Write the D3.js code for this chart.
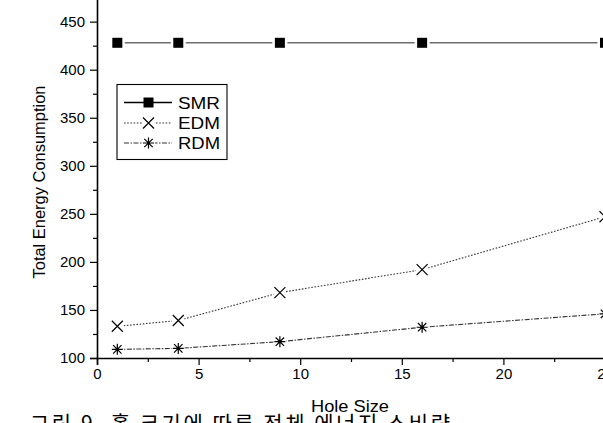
<!DOCTYPE html>
<html>
<head>
<meta charset="utf-8">
<script src="https://cdn.jsdelivr.net/npm/d3@7"></script>
<style>
  html, body { margin: 0; padding: 0; background: #fff; }
  svg { display: block; font-family: Arial, "Liberation Sans", sans-serif; }
</style>
</head>
<body>
<svg id="chart" width="603" height="423"></svg>
<script>
// ---- data ----
const holeSizes = [1, 4, 9, 16, 25];
const smrValues = [428, 428, 428, 428, 428];
const edmValues = [133, 139, 168, 192, 247];
const rdmValues = [109, 110, 117, 132, 146];
const seriesNames = ["SMR", "EDM", "RDM"];
const xTickValues = [0, 5, 10, 15, 20, 25];
const yTickValues = [100, 150, 200, 250, 300, 350, 400, 450];
const xTitle = "Hole Size";
const yTitle = "Total Energy Consumption";
const caption = "그림 9.  홀 크기에 따른 전체 에너지 소비량";

const svg = d3.select("#chart");

const x = d3.scaleLinear().domain([0, 25]).range([97, 605]);
const y = d3.scaleLinear().domain([100, 500]).range([358, -26.4]);

// ---- axes ----
const xAxis = d3.axisBottom(x).tickValues(xTickValues).tickSize(7).tickPadding(3).tickFormat(d3.format("d"));
const xMinor = d3.axisBottom(x).tickValues(d3.range(2.5, 26, 5)).tickSize(4).tickFormat("");
const yAxis = d3.axisLeft(y).tickValues(yTickValues).tickSize(7).tickPadding(5).tickFormat(d3.format("d"));
const yMinor = d3.axisLeft(y).tickValues(d3.range(125, 476, 50)).tickSize(4).tickFormat("");

function styleAxis(g) {
  g.select(".domain").attr("stroke", "#000").attr("stroke-width", 1.6);
  g.selectAll(".tick line").attr("stroke", "#000").attr("stroke-width", 1.2);
  g.selectAll(".tick text").attr("fill", "#000").attr("font-size", 15)
    .attr("font-family", "Arial, 'Liberation Sans', sans-serif");
}

svg.append("g").attr("transform", "translate(0,358)").call(xMinor).call(styleAxis)
  .select(".domain").remove();
svg.append("g").attr("transform", "translate(0,358)").call(xAxis).call(styleAxis);
svg.append("g").attr("transform", "translate(97,0)").call(yMinor).call(styleAxis)
  .select(".domain").remove();
svg.append("g").attr("transform", "translate(97,0)").call(yAxis).call(styleAxis);

// axis titles
svg.append("text").attr("x", 350).attr("y", 412).attr("text-anchor", "middle")
  .attr("font-size", 17).attr("textLength", 78).attr("lengthAdjust", "spacingAndGlyphs")
  .attr("fill", "#000").text(xTitle);
svg.append("text").attr("transform", "translate(45,182) rotate(-90)").attr("text-anchor", "middle")
  .attr("font-size", 16.5).attr("textLength", 193).attr("lengthAdjust", "spacingAndGlyphs")
  .attr("fill", "#000").text(yTitle);

// caption (cut off at bottom)
svg.append("text").attr("x", 30).attr("y", 431)
  .attr("font-family", "'Noto Sans CJK KR', sans-serif").attr("font-size", 21)
  .attr("textLength", 420).attr("lengthAdjust", "spacing")
  .attr("fill", "#000").text(caption);

// ---- series ----
const series = [
  { name: "SMR", values: smrValues, dash: null, color: "#6e6e6e", width: 1.6, marker: "square" },
  { name: "EDM", values: edmValues, dash: "1.6,1.6", color: "#333", width: 1.1, marker: "x" },
  { name: "RDM", values: rdmValues, dash: "5,1.5,1.5,1.5", color: "#333", width: 1.1, marker: "asterisk" }
];

const line = d3.line().x(d => x(d[0])).y(d => y(d[1]));

function drawMarker(g, type, cx, cy) {
  if (type === "square") {
    g.append("rect").attr("x", cx - 7.5).attr("y", cy - 7.5).attr("width", 15).attr("height", 15).attr("fill", "#fff");
    g.append("rect").attr("x", cx - 5).attr("y", cy - 5).attr("width", 10).attr("height", 10).attr("fill", "#000");
  } else if (type === "x") {
    g.append("circle").attr("cx", cx).attr("cy", cy).attr("r", 6.5).attr("fill", "#fff");
    const s = 5.5;
    g.append("path").attr("d", `M${cx - s},${cy - s}L${cx + s},${cy + s}M${cx - s},${cy + s}L${cx + s},${cy - s}`)
      .attr("stroke", "#000").attr("stroke-width", 1.2).attr("fill", "none");
  } else {
    g.append("circle").attr("cx", cx).attr("cy", cy).attr("r", 6.5).attr("fill", "#fff");
    const s = 5.5, d = 4.2;
    g.append("path").attr("d",
      `M${cx},${cy - s}L${cx},${cy + s}M${cx - s},${cy}L${cx + s},${cy}` +
      `M${cx - d},${cy - d}L${cx + d},${cy + d}M${cx - d},${cy + d}L${cx + d},${cy - d}`)
      .attr("stroke", "#000").attr("stroke-width", 1.2).attr("fill", "none");
    g.append("circle").attr("cx", cx).attr("cy", cy).attr("r", 1.6).attr("fill", "#000");
  }
}

series.forEach(s => {
  const pts = holeSizes.map((h, i) => [h, s.values[i]]);
  const g = svg.append("g");
  g.append("path").datum(pts).attr("d", line).attr("fill", "none")
    .attr("stroke", s.color).attr("stroke-width", s.width)
    .attr("stroke-dasharray", s.dash);
  pts.forEach(p => drawMarker(g, s.marker, x(p[0]), y(p[1])));
});

// ---- legend ----
const lg = svg.append("g");
lg.append("rect").attr("x", 117).attr("y", 84.5).attr("width", 110).attr("height", 75)
  .attr("fill", "#fff").attr("stroke", "#000").attr("stroke-width", 1.1);
const rowY = [102.5, 123, 143];
series.forEach((s, i) => {
  const yy = rowY[i];
  lg.append("line").attr("x1", 124).attr("x2", 172).attr("y1", yy).attr("y2", yy)
    .attr("stroke", s.name === "SMR" ? "#000" : s.color).attr("stroke-width", s.width)
    .attr("stroke-dasharray", s.dash);
  if (s.marker === "square") {
    lg.append("rect").attr("x", 143.5).attr("y", yy - 5).attr("width", 10).attr("height", 10).attr("fill", "#000");
  } else {
    drawMarker(lg, s.marker, 148.5, yy);
  }
  lg.append("text").attr("x", 178).attr("y", yy + 6).attr("font-size", 16.5)
    .attr("textLength", 42).attr("lengthAdjust", "spacingAndGlyphs")
    .attr("fill", "#000").text(s.name);
});
</script>
</body>
</html>
